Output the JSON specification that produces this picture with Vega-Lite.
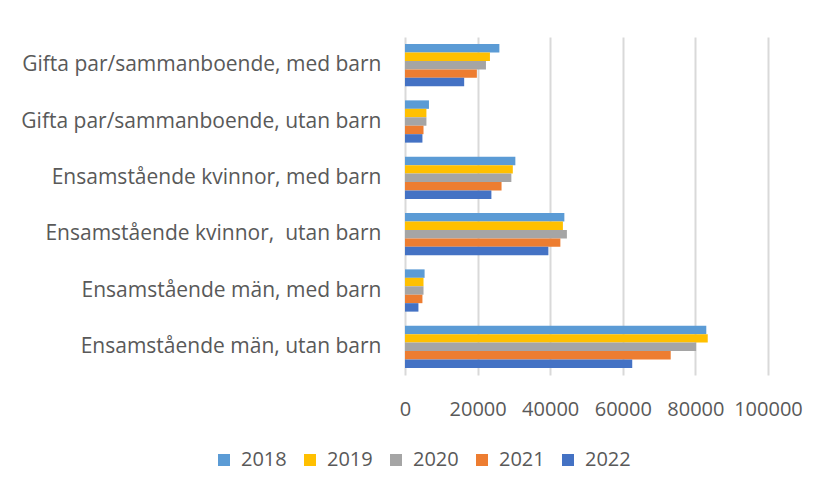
{
  "$schema": "https://vega.github.io/schema/vega-lite/v6.json",
  "autosize": {"type": "none"},
  "width": 363,
  "height": 338,
  "padding": {"left": 405, "top": 37, "right": 60, "bottom": 120},
  "background": "white",
  "config": {
    "view": {"stroke": null},
    "font": "Open Sans",
    "axis": {"labelColor": "#595959", "labelFont": "Open Sans"},
    "legend": {"labelColor": "#595959", "labelFont": "Open Sans"}
  },
  "data": {
    "values": [
      {"kategori": "Gifta par/sammanboende, med barn", "år": "2018", "antal": 26000},
      {"kategori": "Gifta par/sammanboende, med barn", "år": "2019", "antal": 23400},
      {"kategori": "Gifta par/sammanboende, med barn", "år": "2020", "antal": 22300},
      {"kategori": "Gifta par/sammanboende, med barn", "år": "2021", "antal": 19800},
      {"kategori": "Gifta par/sammanboende, med barn", "år": "2022", "antal": 16300},
      {"kategori": "Gifta par/sammanboende, utan barn", "år": "2018", "antal": 6600},
      {"kategori": "Gifta par/sammanboende, utan barn", "år": "2019", "antal": 5900},
      {"kategori": "Gifta par/sammanboende, utan barn", "år": "2020", "antal": 5900},
      {"kategori": "Gifta par/sammanboende, utan barn", "år": "2021", "antal": 5100},
      {"kategori": "Gifta par/sammanboende, utan barn", "år": "2022", "antal": 4800},
      {"kategori": "Ensamstående kvinnor, med barn", "år": "2018", "antal": 30400},
      {"kategori": "Ensamstående kvinnor, med barn", "år": "2019", "antal": 29700},
      {"kategori": "Ensamstående kvinnor, med barn", "år": "2020", "antal": 29300},
      {"kategori": "Ensamstående kvinnor, med barn", "år": "2021", "antal": 26600},
      {"kategori": "Ensamstående kvinnor, med barn", "år": "2022", "antal": 23800},
      {"kategori": "Ensamstående kvinnor,\u00a0 utan barn", "år": "2018", "antal": 43900},
      {"kategori": "Ensamstående kvinnor,\u00a0 utan barn", "år": "2019", "antal": 43500},
      {"kategori": "Ensamstående kvinnor,\u00a0 utan barn", "år": "2020", "antal": 44600},
      {"kategori": "Ensamstående kvinnor,\u00a0 utan barn", "år": "2021", "antal": 42800},
      {"kategori": "Ensamstående kvinnor,\u00a0 utan barn", "år": "2022", "antal": 39500},
      {"kategori": "Ensamstående män, med barn", "år": "2018", "antal": 5400},
      {"kategori": "Ensamstående män, med barn", "år": "2019", "antal": 5100},
      {"kategori": "Ensamstående män, med barn", "år": "2020", "antal": 5100},
      {"kategori": "Ensamstående män, med barn", "år": "2021", "antal": 4800},
      {"kategori": "Ensamstående män, med barn", "år": "2022", "antal": 3700},
      {"kategori": "Ensamstående män, utan barn", "år": "2018", "antal": 83000},
      {"kategori": "Ensamstående män, utan barn", "år": "2019", "antal": 83400},
      {"kategori": "Ensamstående män, utan barn", "år": "2020", "antal": 80200},
      {"kategori": "Ensamstående män, utan barn", "år": "2021", "antal": 73200},
      {"kategori": "Ensamstående män, utan barn", "år": "2022", "antal": 62600}
    ]
  },
  "mark": {"type": "bar"},
  "encoding": {
    "y": {
      "field": "kategori",
      "type": "nominal",
      "sort": null,
      "scale": {"paddingInner": 0.25, "paddingOuter": 0.125},
      "axis": {
        "title": null,
        "domain": false,
        "ticks": false,
        "labelFontSize": 21,
        "labelPadding": 24,
        "labelLimit": 500
      }
    },
    "yOffset": {"field": "år", "type": "nominal", "sort": "ascending", "scale": {"paddingInner": 0, "paddingOuter": 0}},
    "x": {
      "field": "antal",
      "type": "quantitative",
      "scale": {"domain": [0, 100000], "nice": false},
      "axis": {
        "title": null,
        "domain": false,
        "ticks": false,
        "values": [0, 20000, 40000, 60000, 80000, 100000],
        "format": "d",
        "labelFontSize": 20,
        "labelPadding": 24,
        "labelFlush": false,
        "labelOverlap": false,
        "gridColor": "#d9d9d9",
        "gridWidth": 2
      }
    },
    "color": {
      "field": "år",
      "type": "nominal",
      "scale": {
        "domain": ["2018", "2019", "2020", "2021", "2022"],
        "range": ["#5B9BD5", "#FFC000", "#A5A5A5", "#ED7D31", "#4472C4"]
      },
      "legend": {
        "title": null,
        "orient": "none",
        "direction": "horizontal",
        "legendX": -191,
        "legendY": 413,
        "symbolType": "square",
        "symbolSize": 144,
        "symbolStrokeWidth": 0,
        "labelFontSize": 20,
        "labelOffset": 7,
        "columnPadding": 13
      }
    }
  }
}
